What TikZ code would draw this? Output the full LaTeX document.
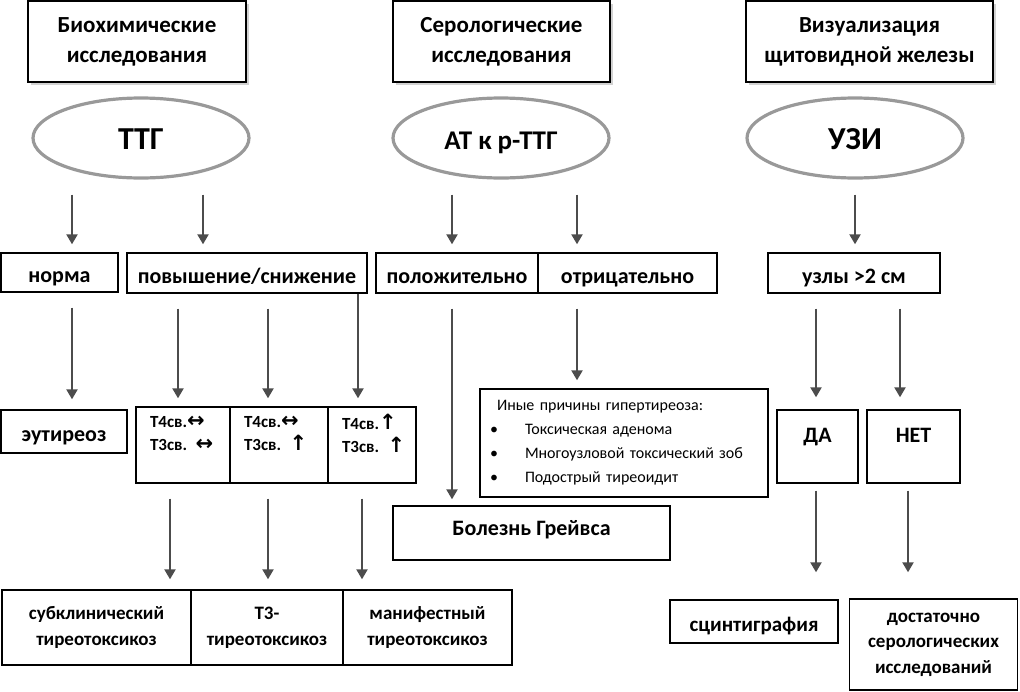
\documentclass[tikz,border=0pt]{standalone}
\usepackage{fontspec}
\setmainfont{Carlito}
\newfontfamily\symfont{DejaVu Sans}
\usetikzlibrary{arrows.meta,shapes.geometric,shadows}
\newcommand{\lr}{{\symfont\fontsize{10.5}{10}\selectfont ↔}}
\newcommand{\up}{{\symfont\fontsize{10.5}{10}\selectfont ↑}}
\tikzset{box/.style={draw,line width=0.7pt,fill=white,inner sep=1pt,align=center,
    font=\fontsize{11}{14}\selectfont\bfseries},
  one/.style={text height=10pt,text depth=0pt},
  head/.style={box,minimum height=40.5pt,font=\fontsize{11.5}{15}\selectfont\bfseries,
    drop shadow={shadow xshift=1.5pt,shadow yshift=-1.5pt,fill=black!35}},
  oval/.style={ellipse,draw=black!40,line width=1.6pt,minimum width=108pt,minimum height=40pt,
    text height=11pt,text depth=0pt,font=\fontsize{16}{18}\selectfont\bfseries},
  tbox/.style={box,minimum height=38pt,align=left,font=\fontsize{8.5}{11.5}\selectfont\bfseries},
  res/.style={box,minimum height=37.5pt,font=\fontsize{9.5}{13}\selectfont\bfseries},
  arr/.style={-{Triangle[length=5pt,width=5.5pt]},draw=black!70,line width=1.1pt,
    shorten <=7.5pt,shorten >=4pt}}
\begin{document}
\begin{tikzpicture}[x=0.5pt,y=-0.5pt]
\useasboundingbox (0,0) rectangle (1020,691);
\node [head,minimum width=109pt] (bio) at (137,41.5) {Биохимические\\исследования};
\node [head,minimum width=108.5pt] (ser) at (501.5,41.5) {Серологические\\исследования};
\node [head,minimum width=123.5pt] (vis) at (869.5,41.5) {Визуализация\\щитовидной железы};
\node [oval] (ttg) at (141,138) {ТТГ};
\node [oval,font=\fontsize{13.5}{16}\selectfont\bfseries] (at) at (501,138) {АТ к р-ТТГ};
\node [oval] (uzi) at (855,138) {УЗИ};
\node [box,one,minimum width=58.5pt,minimum height=19.5pt] (norm) at (59.5,272.5) {норма};
\node [box,one,minimum width=120pt,minimum height=20pt] (chg) at (247,273) {повышение/снижение};
\node [box,one,minimum width=81pt,minimum height=20pt] (pos) at (457,273) {положительно};
\node [box,one,minimum width=89.5pt,minimum height=20pt] (neg) at (627.5,273) {отрицательно};
\node [box,one,minimum width=86pt,minimum height=20pt] (nod) at (854,273) {узлы >2 см};
\node [box,one,minimum width=63pt,minimum height=21.5pt] (eut) at (64,431.5) {эутиреоз};
\node [tbox,minimum width=47pt,text width=33pt] (ta) at (183,445) {\mbox{Т4св.\lr}\\\mbox{Т3св. \lr}\\\mbox{}};
\node [tbox,minimum width=49pt,text width=35pt] (tb) at (279,445) {\mbox{Т4св.\lr}\\\mbox{Т3св. \up}\\\mbox{}};
\node [tbox,minimum width=44pt,text width=30pt] (tc) at (372,445) {\mbox{Т4св.\up}\\\mbox{Т3св. \up}\\\mbox{}};
\node [box,minimum width=144pt,minimum height=54pt,text width=134pt,align=left,
  font=\fontsize{8}{12}\selectfont] (oth) at (624,443)
  {\hspace*{3.5pt}Иные причины гипертиреоза:\\
   \makebox[17.5pt][l]{\textbullet}Токсическая аденома\\
   \makebox[17.5pt][l]{\textbullet}Многоузловой токсический зоб\\
   \makebox[17.5pt][l]{\textbullet}Подострый тиреоидит};
\node [box,minimum width=40.5pt,minimum height=36.5pt,font=\fontsize{11}{11.5}\selectfont\bfseries] (da) at (817.5,446.5) {ДА\\\mbox{}};
\node [box,minimum width=46.5pt,minimum height=36.5pt,font=\fontsize{11}{11.5}\selectfont\bfseries] (net) at (913.5,446.5) {НЕТ\\\mbox{}};
\node [box,minimum width=138.5pt,minimum height=27pt,text height=8pt,text depth=6pt] (grv) at (531.5,533) {Болезнь Грейвса};
\node [res,minimum width=94.5pt] (sub) at (96.5,627.5) {субклинический\\тиреотоксикоз};
\node [res,minimum width=76pt] (t3) at (267,627.5) {Т3-\\тиреотоксикоз};
\node [res,minimum width=84.5pt] (man) at (427.5,627.5) {манифестный\\тиреотоксикоз};
\node [box,one,minimum width=84pt,minimum height=21.5pt,font=\fontsize{10.5}{13}\selectfont\bfseries] (sci) at (754,621.5) {сцинтиграфия};
\node [box,minimum width=84pt,minimum height=45.5pt,font=\fontsize{9.5}{12.75}\selectfont\bfseries] (enough) at (933.5,644.5) {достаточно\\серологических\\исследований};
\coordinate (x1) at (72,0);
\coordinate (x2) at (203,0);
\coordinate (x3) at (452,0);
\coordinate (x4) at (577,0);
\coordinate (x5) at (855,0);
\coordinate (x6) at (178,0);
\coordinate (x7) at (268,0);
\coordinate (x8) at (358,0);
\coordinate (x9) at (816,0);
\coordinate (x10) at (900,0);
\coordinate (x11) at (170,0);
\coordinate (x12) at (362,0);
\coordinate (x13) at (908,0);
\draw [arr] (ttg.south -| x1) -- (norm.north -| x1);
\draw [arr] (ttg.south -| x2) -- (chg.north -| x2);
\draw [arr] (at.south -| x3) -- (pos.north -| x3);
\draw [arr] (at.south -| x4) -- (neg.north -| x4);
\draw [arr] (uzi.south -| x5) -- (nod.north -| x5);
\draw [arr,shorten >=5pt] (norm.south -| x1) -- (eut.north -| x1);
\draw [arr] (chg.south -| x6) -- (ta.north -| x6);
\draw [arr] (chg.south -| x7) -- (tb.north -| x7);
\draw [arr,shorten <=0pt] (chg.south -| x8) -- (tc.north -| x8);
\draw [arr,shorten >=3pt] (pos.south -| x3) -- (grv.north -| x3);
\draw [arr] (neg.south -| x4) -- (oth.north -| x4);
\draw [arr,shorten >=6pt] (nod.south -| x9) -- (da.north -| x9);
\draw [arr,shorten >=6pt] (nod.south -| x10) -- (net.north -| x10);
\draw [arr,shorten >=5pt] (ta.south -| x11) -- (sub.north -| x11);
\draw [arr,shorten >=5pt] (tb.south -| x7) -- (t3.north -| x7);
\draw [arr,shorten >=5pt] (tc.south -| x12) -- (man.north -| x12);
\draw [arr,shorten <=3.5pt,shorten >=13.5pt] (da.south -| x9) -- (sci.north -| x9);
\draw [arr,shorten <=3.5pt,shorten >=13pt] (net.south -| x13) -- (enough.north -| x13);
\end{tikzpicture}
\end{document}
